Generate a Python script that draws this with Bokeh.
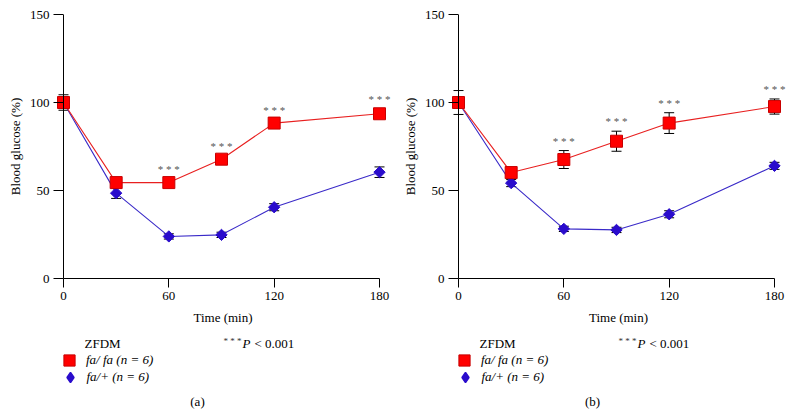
from math import pi
from bokeh.plotting import figure
from bokeh.models import (ColumnDataSource, Whisker, TeeHead, Label, Legend,
                          LegendItem, FixedTicker, Range1d, Span)
from bokeh.layouts import row, column
from bokeh.embed import file_html
from bokeh.resources import INLINE
from bokeh.core.properties import value

# ---------------- data ----------------
time_min = [0, 30, 60, 90, 120, 180]

a_fafa_mean = [100, 54.5, 54.5, 67.8, 88.3, 93.6]
a_fafa_sem = [4.4, 2.0, 2.0, 2.0, 2.0, 2.7]
a_fap_mean = [100, 48.5, 23.9, 24.8, 40.5, 60.4]
a_fap_sem = [3.0, 3.0, 1.5, 1.5, 2.0, 3.0]
a_sig_times = [60, 90, 120, 180]

b_fafa_mean = [100, 60.2, 67.6, 78.0, 88.3, 97.7]
b_fafa_sem = [6.8, 2.0, 5.1, 5.7, 5.9, 4.3]
b_fap_mean = [100, 54.2, 28.2, 27.6, 36.5, 64.0]
b_fap_sem = [3.0, 2.0, 1.5, 1.5, 2.0, 2.0]
b_sig_times = [60, 90, 120, 180]

x_ticks = [0, 60, 120, 180]
y_ticks = [0, 50, 100, 150]

label_fafa = "fa/ fa (n = 6)"
label_fap = "fa/+ (n = 6)"
group_title = "ZFDM"
sig_note = "P"
sig_value = "< 0.001"
stars = "* * *"
x_title = "Time (min)"
y_title = "Blood glucose (%)"

FONT = "Liberation Serif"
RED = "#ff0000"
RED_EDGE = "#c80000"
RED_LINE = "#e82020"
BLUE = "#2a0ccc"
BLUE_LINE = "#3a2ac8"

PANEL_W = 396
PLOT_H = 334
LEG_H = 414 - PLOT_H
TOP = 14
FRAME_H = 264
X_SCALE = 316 / 180.0  # px per minute
AXIS_GAP = 10          # px between frame left edge and x = 0


def make_panel(means_ff, sem_ff, means_fp, sem_fp, sig_times, tag, border_left, border_right):
    frame_w = PANEL_W - border_left - border_right
    x0 = -AXIS_GAP / X_SCALE
    x1 = x0 + frame_w / X_SCALE
    p = figure(width=PANEL_W, height=PLOT_H, output_backend="svg", toolbar_location=None,
               x_range=Range1d(x0, x1), y_range=Range1d(y_ticks[0], y_ticks[-1]),
               min_border_left=border_left, min_border_right=border_right,
               min_border_top=TOP, min_border_bottom=PLOT_H - TOP - FRAME_H)
    p.outline_line_color = None
    p.grid.visible = False

    for ax in (p.xaxis[0], p.yaxis[0]):
        ax.major_tick_line_color = "black"
        ax.minor_tick_line_color = None
        ax.major_label_text_font = FONT
        ax.major_label_text_font_size = "13px"
        ax.major_label_text_color = "black"
        ax.axis_label_text_font = FONT
        ax.axis_label_text_font_size = "13px"
        ax.axis_label_text_font_style = "normal"
        ax.axis_label_text_color = "black"
    p.xaxis.ticker = FixedTicker(ticks=x_ticks)
    p.yaxis.ticker = FixedTicker(ticks=y_ticks)
    p.xaxis.bounds = (x_ticks[0], x_ticks[-1])
    p.xaxis.axis_line_color = "black"
    p.xaxis.major_tick_out = 9
    p.xaxis.major_tick_in = 0
    p.xaxis.major_label_standoff = 4
    p.xaxis.axis_label = x_title
    p.xaxis.axis_label_standoff = 7

    # y axis sits on the frame edge; its ticks reach inward to x = 0
    p.yaxis.axis_line_color = None
    p.yaxis.major_tick_out = 0
    p.yaxis.major_tick_in = AXIS_GAP
    p.yaxis.major_label_standoff = 4
    p.yaxis.axis_label = y_title
    p.yaxis.axis_label_standoff = 4
    p.add_layout(Span(location=0, dimension="height", line_color="black", line_width=1))

    src_ff = ColumnDataSource(dict(t=time_min, m=means_ff,
                                   lo=[m - s for m, s in zip(means_ff, sem_ff)],
                                   hi=[m + s for m, s in zip(means_ff, sem_ff)]))
    src_fp = ColumnDataSource(dict(t=time_min, m=means_fp,
                                   lo=[m - s for m, s in zip(means_fp, sem_fp)],
                                   hi=[m + s for m, s in zip(means_fp, sem_fp)]))

    p.line("t", "m", source=src_fp, line_color=BLUE_LINE, line_width=1.1)
    p.line("t", "m", source=src_ff, line_color=RED_LINE, line_width=1.1)

    for src in (src_fp, src_ff):
        w = Whisker(base="t", upper="hi", lower="lo", source=src, dimension="height",
                    line_color="black", line_width=1,
                    upper_head=TeeHead(size=10, line_color="black", line_width=1),
                    lower_head=TeeHead(size=10, line_color="black", line_width=1),
                    level="underlay")
        p.add_layout(w)

    fp_style = dict(marker="square", angle=pi / 4, size=8, fill_color=BLUE,
                    line_color=BLUE, line_width=1)
    ff_style = dict(marker="square", size=12, fill_color=RED, line_color=RED_EDGE,
                    line_width=1)
    p.scatter("t", "m", source=src_fp, **fp_style)
    p.scatter("t", "m", source=src_ff, **ff_style)

    # significance stars above the upper error bar
    hi_ff = dict(zip(time_min, [m + s for m, s in zip(means_ff, sem_ff)]))
    star_src = ColumnDataSource(dict(x=sig_times, y=[hi_ff[t] for t in sig_times]))
    p.text("x", "y", text=value(stars), source=star_src, text_font=value(FONT),
           text_font_size="11px", text_color="#555555", text_align="center",
           text_baseline="middle", y_offset=-10)

    # ---------- legend / note area underneath (frame aligned with the plot) ----------
    q = figure(width=PANEL_W, height=LEG_H, output_backend="svg", toolbar_location=None,
               x_axis_location=None, y_axis_location=None,
               x_range=Range1d(1000, 1001), y_range=Range1d(1000, 1001),
               min_border_left=border_left, min_border_right=border_right,
               min_border_top=0, min_border_bottom=0)
    q.outline_line_color = None
    q.grid.visible = False
    # legend proxies share the panel's data (all outside this area's ranges)
    r_ff = q.scatter("t", "m", source=src_ff, **ff_style)
    r_fp = q.scatter("t", "m", source=src_fp, marker="diamond", fill_color=BLUE,
                     line_color=BLUE, line_width=1.5)

    leg1 = Legend(items=[LegendItem(label=label_fafa, renderers=[r_ff])],
                  location=(AXIS_GAP - 8, 40), glyph_width=28, glyph_height=28,
                  label_standoff=3)
    leg2 = Legend(items=[LegendItem(label=label_fap, renderers=[r_fp])],
                  location=(AXIS_GAP - 6.5, 24.5), glyph_width=26, glyph_height=26,
                  label_standoff=4)
    for lg in (leg1, leg2):
        lg.padding = 0
        lg.margin = 0
        lg.spacing = 0
        lg.border_line_color = None
        lg.background_fill_alpha = 0
        lg.label_text_font = FONT
        lg.label_text_font_size = "13px"
        lg.label_text_font_style = "italic"
        lg.label_text_color = "black"
        lg.label_height = 16
        q.add_layout(lg)

    def lab(text, dx, y, **kw):
        opts = dict(x_units="screen", y_units="screen", text_font=FONT,
                    text_font_size="13px", text_color="black", text_baseline="middle")
        opts.update(kw)
        q.add_layout(Label(x=AXIS_GAP + dx, y=y, text=text, **opts))

    lab(group_title, 21, 71.5, text_align="left")
    lab(stars, 160, 74, text_align="left", text_font_size="9px", text_color="#333333")
    lab(sig_note, 179, 71, text_align="left", text_font_style="italic")
    lab(sig_value, 191, 71, text_align="left")
    lab(tag, 134, 13.5, text_align="center")
    return column(p, q)


pa = make_panel(a_fafa_mean, a_fafa_sem, a_fap_mean, a_fap_sem, a_sig_times, "(a)", 53, 4)
pb = make_panel(b_fafa_mean, b_fafa_sem, b_fap_mean, b_fap_sem, b_sig_times, "(b)", 52, 4)

layout = row(pa, pb)
open("out.html", "w").write(file_html(layout, INLINE))
